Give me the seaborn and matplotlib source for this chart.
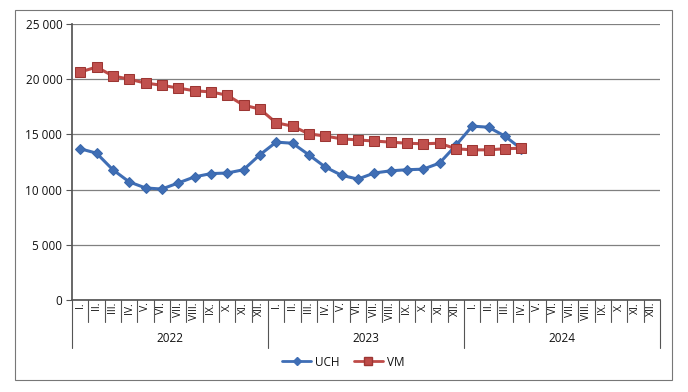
import matplotlib
matplotlib.use("Agg")
import matplotlib.pyplot as plt
import matplotlib.transforms as mtransforms
from matplotlib.patches import Rectangle
import numpy as np
import pandas as pd
import seaborn as sns

# Data
years = ["2022", "2023", "2024"]
months = ["I.", "II.", "III.", "IV.", "V.", "VI.", "VII.", "VIII.", "IX.", "X.", "XI.", "XII."]
uch = [13700, 13300, 11800, 10700, 10150, 10050, 10600, 11150, 11450, 11500, 11800, 13150,
       14300, 14200, 13150, 12050, 11300, 10950, 11500, 11700, 11800, 11850, 12400, 14000,
       15750, 15650, 14850, 13700]
vm = [20650, 21100, 20300, 20000, 19650, 19450, 19200, 18950, 18850, 18550, 17650, 17300,
      16050, 15750, 15050, 14850, 14600, 14500, 14400, 14300, 14200, 14150, 14200, 13700,
      13600, 13600, 13700, 13750]

n_slots = len(years) * len(months)
df = pd.concat([
    pd.DataFrame({"idx": range(len(uch)), "value": uch, "series": "UCH"}),
    pd.DataFrame({"idx": range(len(vm)), "value": vm, "series": "VM"}),
])

sns.set_theme(style="white")
plt.rcParams["font.family"] = ["Open Sans", "DejaVu Sans"]
plt.rcParams["text.color"] = "#111111"

fig = plt.figure(figsize=(6.88, 3.92), dpi=100)
ax = fig.add_axes([72 / 688, 1 - 300 / 392, (660 - 72) / 688, (300 - 24) / 392])

palette = {"UCH": "#3F6EB5", "VM": "#BE4B48"}
sns.lineplot(data=df, x="idx", y="value", hue="series", style="series",
             markers={"UCH": "D", "VM": "s"}, dashes=False, palette=palette,
             linewidth=2.2, ax=ax, legend=False)
# marker styling per series
for line, lab in zip(ax.get_lines(), ["UCH", "VM"]):
    if lab == "UCH":
        line.set_markersize(5)
        line.set_markeredgecolor("#3A67AB")
    else:
        line.set_markersize(7)
        line.set_markeredgecolor("#9C3633")
        line.set_markerfacecolor("#C0504D")

ax.set_xlim(-0.5, n_slots - 0.5)
ax.set_ylim(0, 25000)
ax.set_yticks(np.arange(0, 25001, 5000))
ax.set_yticklabels([f"{v:,}".replace(",", " ") for v in range(0, 25001, 5000)],
                   fontsize=8.5, color="#111111")
ax.yaxis.grid(True, color="#808080", linewidth=0.9)
ax.tick_params(axis="y", left=True, length=4, width=0.8, color="#555555", pad=3)
ax.set_xticks([])
ax.set_xlabel("")
ax.set_ylabel("")
for s in ["top", "right"]:
    ax.spines[s].set_visible(False)
ax.spines["left"].set_color("#555555")
ax.spines["bottom"].set_color("#555555")

# Multi-level category axis
trans = mtransforms.blended_transform_factory(ax.transData, fig.transFigure)
def fy(px):
    return 1 - px / 392

for i in range(n_slots):
    m = months[i % 12]
    ax.text(i, fy(302), m, transform=trans, rotation=90, ha="center", va="top", fontsize=7.5)
    x = i - 0.5
    if i % 12 == 0:
        ax.plot([x, x], [fy(300), fy(348)], transform=trans, color="#555555", lw=0.8, clip_on=False)
    else:
        ax.plot([x, x], [fy(300), fy(322)], transform=trans, color="#555555", lw=0.8, clip_on=False)
ax.plot([n_slots - 0.5] * 2, [fy(300), fy(348)], transform=trans, color="#555555", lw=0.8, clip_on=False)
for k, yr in enumerate(years):
    ax.text(k * 12 + 5.5, fy(339), yr, transform=trans, ha="center", va="center", fontsize=8.5)

# Legend
h_uch = plt.Line2D([], [], color=palette["UCH"], marker="D", markersize=4, lw=2)
h_vm = plt.Line2D([], [], color=palette["VM"], marker="s", markersize=6, lw=2,
                  markeredgecolor="#9C3633")
fig.legend([h_uch, h_vm], ["UCH", "VM"], loc="center", bbox_to_anchor=(343 / 688, fy(362)),
           ncol=2, frameon=False, fontsize=8.5, handlelength=2.5, columnspacing=1.2, handletextpad=0.3)

# Outer border
fig.patches.append(Rectangle((15 / 688, fy(380)), (672 - 15) / 688, (380 - 10) / 392,
                             transform=fig.transFigure, fill=False, edgecolor="#777777", lw=0.8))

fig.savefig("out.png", dpi=100)
